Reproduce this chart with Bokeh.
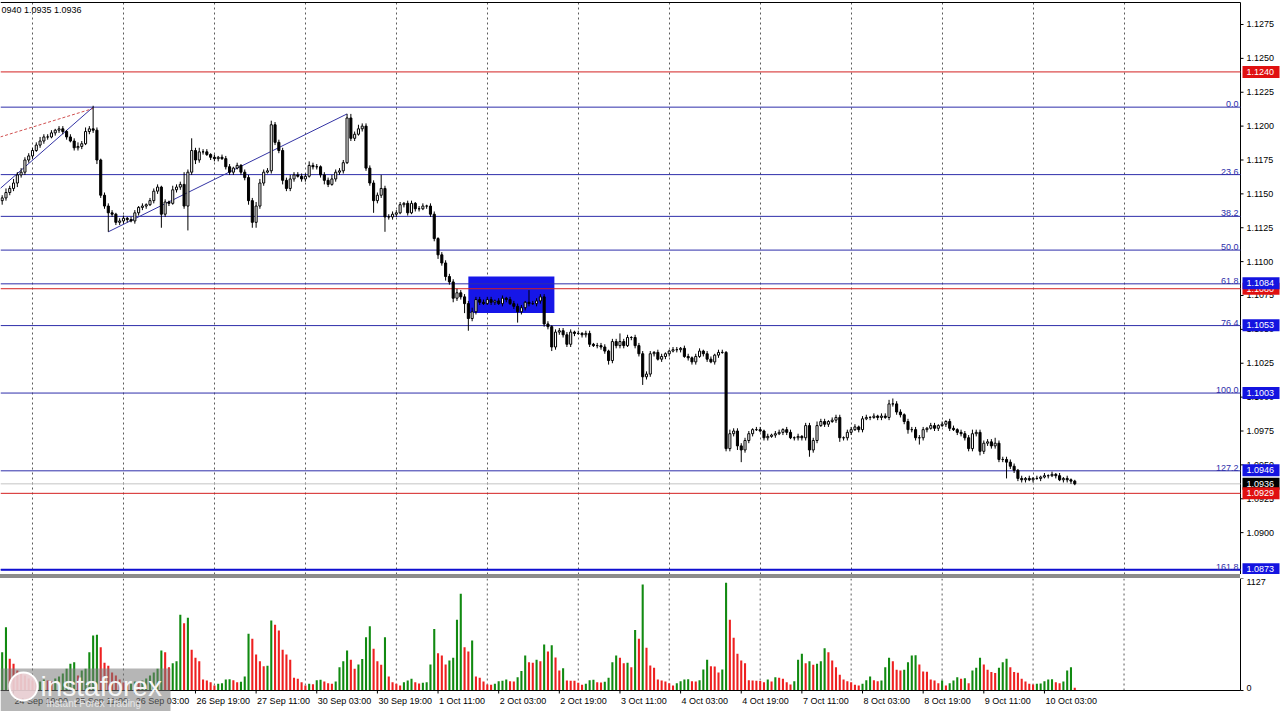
import numpy as np
from bokeh.plotting import figure
from bokeh.models import Range1d, FixedTicker, Grid, Spacer
from bokeh.layouts import column
from bokeh.embed import file_html
from bokeh.resources import INLINE
from bokeh.core.properties import value

# ---------------- data (EURUSD H1) ----------------
# bar index: one bar per hour, 0 = 25 Sep 00:00, weekend hours skipped
first_bar = -8
first_open = 1.1145
header_text = "0940 1.0935 1.0936"

closes = [
    # 24 Sep 16:00 - 23:00
    1.1147, 1.1151, 1.1154, 1.1158, 1.1164, 1.1166, 1.1175, 1.1178,
    # 25 Sep
    1.1182, 1.1186, 1.1189, 1.1192, 1.1192, 1.1195, 1.1197, 1.1198, 1.1196, 1.1192, 1.1189, 1.1184,
    1.1185, 1.1187, 1.1196, 1.1198, 1.1197, 1.1175, 1.1149, 1.1141, 1.1136, 1.1135, 1.1129, 1.1130,
    # 26 Sep
    1.1132, 1.1131, 1.1130, 1.1136, 1.1140, 1.1141, 1.1142, 1.1145, 1.1152, 1.1155, 1.1135, 1.1144,
    1.1143, 1.1153, 1.1155, 1.1157, 1.1141, 1.1166, 1.1182, 1.1175, 1.1181, 1.1181, 1.1179, 1.1177,
    # 27 Sep
    1.1176, 1.1177, 1.1176, 1.1170, 1.1166, 1.1169, 1.1171, 1.1166, 1.1162, 1.1145, 1.1129, 1.1141,
    1.1158, 1.1166, 1.1167, 1.1201, 1.1188, 1.1182, 1.1160, 1.1154, 1.1161, 1.1164, 1.1163, 1.1161,
    # 30 Sep
    1.1163, 1.1171, 1.1170, 1.1170, 1.1164, 1.1160, 1.1157, 1.1161, 1.1166, 1.1167, 1.1173, 1.1206,
    1.1191, 1.1194, 1.1198, 1.1200, 1.1169, 1.1158, 1.1145, 1.1149, 1.1154, 1.1133, 1.1133, 1.1135,
    # 1 Oct
    1.1136, 1.1142, 1.1143, 1.1136, 1.1143, 1.1139, 1.1139, 1.1141, 1.1141, 1.1135, 1.1117, 1.1105,
    1.1099, 1.1089, 1.1085, 1.1073, 1.1077, 1.1074, 1.1069, 1.1058, 1.1063, 1.1072, 1.1070, 1.1069,
    # 2 Oct
    1.1072, 1.1070, 1.1071, 1.1069, 1.1073, 1.1072, 1.1069, 1.1067, 1.1063, 1.1066, 1.1070, 1.1069,
    1.1069, 1.1071, 1.1074, 1.1054, 1.1052, 1.1037, 1.1048, 1.1049, 1.1046, 1.1039, 1.1048, 1.1047,
    # 3 Oct
    1.1047, 1.1046, 1.1047, 1.1039, 1.1038, 1.1038, 1.1037, 1.1034, 1.1027, 1.1041, 1.1038, 1.1041,
    1.1038, 1.1044, 1.1044, 1.1038, 1.1032, 1.1015, 1.1017, 1.1032, 1.1033, 1.1028, 1.1030, 1.1032,
    # 4 Oct
    1.1034, 1.1035, 1.1035, 1.1036, 1.1030, 1.1029, 1.1026, 1.1030, 1.1034, 1.1032, 1.1028, 1.1026,
    1.1031, 1.1033, 1.1033, 1.0962, 1.0973, 1.0975, 1.0964, 1.0961, 1.0968, 1.0973, 1.0976, 1.0976,
    # 7 Oct
    1.0975, 1.0970, 1.0971, 1.0972, 1.0973, 1.0974, 1.0976, 1.0974, 1.0970, 1.0970, 1.0971, 1.0970,
    1.0979, 1.0961, 1.0968, 1.0979, 1.0982, 1.0980, 1.0982, 1.0983, 1.0985, 1.0970, 1.0970, 1.0974,
    # 8 Oct
    1.0976, 1.0978, 1.0976, 1.0984, 1.0985, 1.0985, 1.0986, 1.0985, 1.0986, 1.0985, 1.0995, 1.0995,
    1.0989, 1.0987, 1.0982, 1.0976, 1.0976, 1.0970, 1.0970, 1.0976, 1.0977, 1.0979, 1.0977, 1.0979,
    # 9 Oct
    1.0980, 1.0982, 1.0977, 1.0976, 1.0974, 1.0973, 1.0970, 1.0962, 1.0973, 1.0974, 1.0960, 1.0966,
    1.0967, 1.0964, 1.0966, 1.0954, 1.0954, 1.0952, 1.0949, 1.0946, 1.0940, 1.0939, 1.0940, 1.0939,
    # 10 Oct 00:00 - 11:00
    1.0940, 1.0940, 1.0941, 1.0942, 1.0942, 1.0943, 1.0942, 1.0939, 1.0940, 1.0939, 1.0938, 1.0936,
]

# wick lengths above / below the body, in pips
upper_wick_pips = [
    2, 3, 2, 3, 2, 3, 2, 2,
    2, 2, 3, 2, 2, 2, 1, 2, 2, 1, 2, 2, 3, 2, 3, 2, 17, 2, 1, 2, 2, 2, 1, 2,
    2, 1, 2, 2, 1, 2, 1, 2, 2, 2, 1, 2, 1, 3, 2, 2, 9, 2, 9, 2, 3, 2, 2, 1,
    2, 1, 2, 2, 2, 1, 2, 1, 2, 2, 2, 3, 3, 2, 2, 3, 2, 2, 2, 2, 3, 2, 2, 2,
    2, 3, 2, 2, 1, 2, 2, 3, 2, 2, 2, 3, 3, 2, 3, 2, 2, 2, 2, 2, 10, 2, 2, 2,
    2, 2, 1, 2, 2, 1, 2, 2, 1, 2, 2, 1, 2, 2, 2, 2, 3, 2, 2, 2, 3, 2, 2, 2,
    2, 2, 1, 2, 2, 1, 2, 2, 2, 2, 1, 9, 2, 2, 2, 2, 2, 1, 2, 2, 2, 2, 2, 1,
    2, 1, 2, 2, 1, 2, 2, 2, 1, 2, 2, 6, 2, 2, 1, 2, 2, 2, 2, 2, 1, 2, 2, 1,
    1, 2, 2, 1, 2, 2, 1, 2, 2, 1, 2, 2, 1, 2, 2, 1, 3, 2, 2, 2, 2, 2, 1, 2,
    2, 1, 2, 1, 2, 2, 1, 2, 2, 1, 2, 1, 2, 2, 2, 3, 2, 2, 1, 2, 2, 2, 1, 2,
    2, 2, 1, 2, 2, 1, 2, 1, 2, 2, 3, 4, 2, 2, 1, 2, 2, 2, 2, 2, 1, 2, 2, 1,
    2, 1, 2, 2, 1, 2, 2, 2, 3, 2, 2, 2, 2, 2, 4, 2, 2, 2, 2, 2, 1, 2, 1, 2,
    1, 2, 1, 2, 1, 2, 1, 2, 1, 2, 1, 1,
]
lower_wick_pips = [
    3, 2, 2, 2, 3, 2, 2, 2,
    2, 1, 2, 2, 2, 1, 2, 2, 2, 2, 1, 2, 2, 2, 1, 2, 2, 3, 2, 2, 14, 2, 2, 2,
    2, 2, 1, 2, 2, 2, 2, 1, 2, 2, 10, 2, 2, 1, 2, 2, 2, 18, 2, 3, 2, 2, 1, 2,
    2, 2, 1, 2, 2, 2, 1, 2, 2, 3, 4, 4, 2, 2, 1, 2, 2, 2, 3, 2, 2, 2, 1, 2,
    2, 1, 2, 2, 2, 3, 2, 1, 2, 2, 2, 1, 2, 2, 1, 2, 2, 2, 9, 2, 2, 11, 2, 2,
    2, 1, 2, 2, 1, 2, 2, 1, 2, 2, 2, 3, 2, 3, 2, 3, 2, 2, 7, 9, 2, 2, 2, 1,
    1, 2, 2, 1, 2, 2, 1, 2, 8, 2, 2, 2, 1, 2, 2, 2, 2, 3, 2, 2, 2, 2, 2, 2,
    1, 2, 2, 2, 1, 2, 2, 2, 3, 2, 2, 2, 2, 1, 2, 2, 2, 6, 2, 2, 2, 1, 2, 2,
    2, 1, 2, 2, 1, 2, 2, 2, 1, 2, 2, 1, 2, 2, 1, 2, 2, 2, 3, 9, 2, 2, 2, 1,
    1, 2, 2, 1, 2, 1, 2, 2, 1, 2, 2, 2, 2, 5, 2, 2, 1, 2, 2, 1, 2, 3, 2, 2,
    2, 1, 2, 2, 1, 2, 1, 2, 2, 1, 2, 2, 2, 2, 2, 3, 2, 2, 5, 2, 2, 1, 2, 2,
    1, 2, 2, 1, 2, 2, 2, 2, 2, 2, 3, 2, 2, 2, 2, 2, 2, 12, 2, 2, 2, 2, 2, 1,
    2, 1, 2, 1, 2, 1, 2, 1, 2, 2, 2, 1,
]

volumes = [
    385, 637, 319, 268, 201, 180, 150, 120,
    100, 80, 90, 110, 100, 90, 120, 140, 170, 218, 268, 285, 150, 201, 218, 385, 553, 560, 436, 280, 250, 180, 150, 110,
    80, 60, 70, 90, 80, 100, 120, 150, 180, 220, 402, 385, 235, 275, 295, 761, 677, 731, 409, 329, 295, 111, 101, 84,
    50, 67, 74, 111, 114, 104, 84, 88, 141, 570, 520, 362, 295, 245, 250, 704, 661, 604, 409, 362, 309, 128, 117, 84,
    50, 67, 64, 104, 107, 91, 74, 67, 91, 235, 295, 402, 309, 218, 262, 318, 537, 647, 419, 295, 258, 537, 141, 84,
    67, 50, 84, 101, 117, 84, 70, 77, 84, 262, 620, 376, 352, 262, 302, 329, 711, 973, 436, 392, 503, 141, 128, 91,
    60, 57, 67, 94, 97, 111, 94, 91, 134, 195, 352, 285, 280, 309, 295, 463, 392, 456, 332, 201, 225, 101, 99, 97,
    77, 57, 67, 104, 107, 84, 81, 87, 128, 285, 352, 329, 275, 280, 235, 610, 520, 1066, 429, 252, 228, 111, 101, 91,
    74, 50, 74, 94, 111, 114, 94, 91, 104, 211, 309, 245, 242, 181, 211, 1083, 711, 530, 369, 302, 275, 104, 101, 99,
    95, 84, 111, 91, 134, 128, 117, 84, 60, 94, 309, 369, 275, 295, 258, 268, 295, 426, 386, 302, 235, 158, 111, 94,
    84, 57, 50, 67, 104, 141, 104, 94, 101, 235, 329, 295, 208, 201, 208, 285, 352, 355, 262, 191, 188, 111, 101, 74,
    101, 50, 74, 101, 134, 117, 124, 74, 201, 228, 329, 262, 208, 185, 175, 228, 285, 319, 235, 185, 178, 117, 91, 67,
    60, 67, 70, 94, 111, 114, 84, 74, 91, 201, 235, 27,
]
volume_scale_max = 1127

# time axis
day_start_bars = [0, 24, 48, 72, 96, 120, 144, 168, 192, 216, 240, 264, 288]
time_tick_bars = [-5, 11, 27, 43, 59, 75, 91, 107, 123, 139, 155, 171, 187, 203, 219, 235, 251, 267]
time_tick_labels = ["24 Sep 19:00", "25 Sep 11:00", "26 Sep 03:00", "26 Sep 19:00", "27 Sep 11:00",
                    "30 Sep 03:00", "30 Sep 19:00", "1 Oct 11:00", "2 Oct 03:00", "2 Oct 19:00",
                    "3 Oct 11:00", "4 Oct 03:00", "4 Oct 19:00", "7 Oct 11:00", "8 Oct 03:00",
                    "8 Oct 19:00", "9 Oct 11:00", "10 Oct 03:00"]
price_ticks = [1.0900, 1.0925, 1.0950, 1.0975, 1.1000, 1.1025, 1.1050, 1.1075,
               1.1100, 1.1125, 1.1150, 1.1175, 1.1200, 1.1225, 1.1250, 1.1275]

# Fibonacci grid
fib_high = 1.1214
fib_low = 1.1003
fib_levels = [0.0, 23.6, 38.2, 50.0, 61.8, 76.4, 100.0, 127.2, 161.8]
fib_tagged = [61.8, 76.4, 100.0, 127.2, 161.8]
# horizontal resistance / support lines
red_levels = [1.1240, 1.1080, 1.0929]
# trend lines (bar index, price)
trend_a_bars, trend_a_prices = [-8.5, 16], [1.1154, 1.1214]
trend_dash_bars, trend_dash_prices = [-8.5, 16], [1.1192, 1.1213]
trend_b_bars, trend_b_prices = [20, 83], [1.1122, 1.1209]
# blue rectangle (consolidation zone)
zone_bars = [115.0, 137.7]
zone_prices = [1.1062, 1.1089]

# ---------------- derived ----------------
n = len(closes)
bars = np.arange(first_bar, first_bar + n)
c = np.array(closes)
o = np.concatenate([[first_open], c[:-1]])
hi = np.maximum(o, c) + np.array(upper_wick_pips) * 0.0001
lo = np.minimum(o, c) - np.array(lower_wick_pips) * 0.0001
bull = c >= o
vol = np.array(volumes)
vol_up = np.concatenate([[True], vol[1:] > vol[:-1]])
vol_colors = ["#118a11" if u else "#ee2020" for u in vol_up]

fib_prices = [fib_high - lv / 100.0 * (fib_high - fib_low) for lv in fib_levels]
bid = closes[-1]

FONT = "Liberation Sans"
FIB_COLOR = "#2e2eaa"
GRID_COLOR = "#5a5a5a"
TAG_BLUE = "#1414e0"
TAG_RED = "#e01010"

# ---------------- geometry ----------------
W = 1280            # page width
CHART_W = 1240      # chart area; the price scale sits to its right
bar_lo, bar_hi = -8.443, 318.73
px_per_bar = CHART_W / (bar_hi - bar_lo)
xr = Range1d(bar_lo, bar_lo + W / px_per_bar)
axis_x = bar_hi

MAIN_H = 574
price_lo, price_hi = 1.08691, 1.12927
price_per_px = (price_hi - price_lo) / MAIN_H
VOL_H = 133
VOL_FRAME_H = 112
vol_hi = 1127
vol_per_px = vol_hi / VOL_FRAME_H
vol_lo = -(VOL_H - VOL_FRAME_H) * vol_per_px


def txt(fig, x, y, t, **kw):
    kw.setdefault("text_font", value(FONT))
    kw.setdefault("text_font_size", "9px")
    return fig.text(x=x, y=y, text=t, **kw)


# ---------------- price panel ----------------
p = figure(width=W, height=MAIN_H, x_range=xr, y_range=Range1d(price_lo, price_hi),
           output_backend="svg", toolbar_location=None,
           x_axis_location=None, y_axis_location=None,
           min_border_left=0, min_border_right=0, min_border_top=0, min_border_bottom=0)
p.outline_line_color = None
p.grid.visible = False
p.add_layout(Grid(dimension=0, ticker=FixedTicker(ticks=day_start_bars),
                  grid_line_color=GRID_COLOR, grid_line_dash="2 3", grid_line_width=1))

# frame lines: top border and price-scale line
top_line = price_hi - 2 * price_per_px
p.segment(x0=[bar_lo], y0=[top_line], x1=[axis_x], y1=[top_line], line_color="black", line_width=1)
p.segment(x0=[axis_x], y0=[price_lo], x1=[axis_x], y1=[top_line], line_color="black", line_width=1)

# zone rectangle
p.quad(left=[zone_bars[0]], right=[zone_bars[1]], bottom=[zone_prices[0]], top=[zone_prices[1]],
       fill_color="#1616e8", line_color=None)

# horizontal levels (chart area only)
def hline(prices, **kw):
    p.segment(x0=[bar_lo] * len(prices), y0=prices, x1=[axis_x] * len(prices), y1=prices, **kw)

hline(fib_prices, line_color=FIB_COLOR, line_width=1)
hline([fib_prices[-1]], line_color="#1010d0", line_width=2)
hline(red_levels, line_color="#d42020", line_width=1)
hline([bid], line_color="#c4c4c4", line_width=1)

# trend lines
p.line(trend_a_bars, trend_a_prices, line_color="#3434a4", line_width=1)
p.line(trend_dash_bars, trend_dash_prices, line_color="#d05050", line_width=1, line_dash="3 2")
p.line(trend_b_bars, trend_b_prices, line_color="#3434a4", line_width=1)

# candles
p.segment(x0=bars, y0=hi, x1=bars, y1=lo, line_color="black", line_width=1)
p.vbar(x=bars, width=0.55, top=np.maximum(o, c), bottom=np.minimum(o, c),
       fill_color=["white" if b else "black" for b in bull], line_color="black", line_width=1)

# fib level texts
txt(p, [axis_x] * len(fib_levels), fib_prices, ["%.1f" % lv for lv in fib_levels],
    text_align="right", text_baseline="bottom", x_offset=-2, text_color=FIB_COLOR)

# header text
txt(p, [bar_lo], [price_hi], [header_text], text_align="left", text_baseline="top",
    x_offset=1, y_offset=4, text_color="black")

# price scale ticks and labels
p.ray(x=[axis_x] * len(price_ticks), y=price_ticks, length=3, length_units="screen",
      angle=0, line_color="black", line_width=1)
txt(p, [axis_x] * len(price_ticks), price_ticks, ["%.4f" % t for t in price_ticks],
    text_align="left", text_baseline="middle", x_offset=6, text_color="black")

# price tags on the scale
tag_prices, tag_colors = [], []
tag_prices.append(red_levels[0]); tag_colors.append(TAG_RED)
tag_prices.append(red_levels[1]); tag_colors.append(TAG_RED)
for lv, pr in zip(fib_levels, fib_prices):
    if lv in fib_tagged:
        tag_prices.append(round(pr, 4)); tag_colors.append(TAG_BLUE)
tag_prices.append(bid); tag_colors.append("black")
tag_prices.append(red_levels[2]); tag_colors.append(TAG_RED)
for pr, col in zip(tag_prices, tag_colors):
    p.rect(x=[axis_x + 20.5 / px_per_bar], y=[pr], width=37, height=12,
           width_units="screen", height_units="screen", fill_color=col, line_color=None)
    txt(p, [axis_x], [pr], ["%.4f" % pr], text_align="left", text_baseline="middle",
        x_offset=6, text_color="white")

# ---------------- separator ----------------
sep = Spacer(width=CHART_W, height=4, styles={"background-color": "#8c8c8c"})

# ---------------- volume panel ----------------
v = figure(width=W, height=VOL_H, x_range=xr, y_range=Range1d(vol_lo, vol_hi),
           output_backend="svg", toolbar_location=None,
           x_axis_location=None, y_axis_location=None,
           min_border_left=0, min_border_right=0, min_border_top=0, min_border_bottom=0)
v.outline_line_color = None
v.grid.visible = False

v.segment(x0=day_start_bars, y0=[0] * len(day_start_bars), x1=day_start_bars,
          y1=[vol_hi] * len(day_start_bars), line_color=GRID_COLOR, line_dash="2 3", line_width=1)
v.vbar(x=bars, top=vol, bottom=0, width=0.55, fill_color=vol_colors, line_color=None)

# axes lines
v.segment(x0=[bar_lo], y0=[0], x1=[axis_x], y1=[0], line_color="black", line_width=1)
v.segment(x0=[axis_x], y0=[0], x1=[axis_x], y1=[vol_hi], line_color="black", line_width=1)

# volume scale
v.ray(x=[axis_x, axis_x], y=[0, volume_scale_max], length=3, length_units="screen", angle=0,
      line_color="black", line_width=1)
txt(v, [axis_x], [volume_scale_max], [str(volume_scale_max)], text_align="left",
    text_baseline="top", x_offset=6, y_offset=0, text_color="black")
txt(v, [axis_x], [0], ["0"], text_align="left", text_baseline="bottom", x_offset=6,
    y_offset=0, text_color="black")

# time scale
v.ray(x=time_tick_bars, y=[0] * len(time_tick_bars), length=3, length_units="screen",
      angle=-np.pi / 2, line_color="black", line_width=1)
txt(v, time_tick_bars, [0] * len(time_tick_bars), time_tick_labels, text_align="left",
    text_baseline="top", x_offset=1, y_offset=5, text_color="black")

# watermark
wm_right = bar_lo + 170 / px_per_bar
v.quad(left=[bar_lo], right=[wm_right], bottom=[vol_lo], top=[22 * vol_per_px],
       fill_color="#7a7a7a", fill_alpha=0.55, line_color=None)
v.scatter(x=[bar_lo + 23 / px_per_bar], y=[4 * vol_per_px], size=28, marker="circle",
          fill_color="#f2d6da", fill_alpha=0.85, line_color="#ffffff", line_width=2)
txt(v, [bar_lo], [0], ["instaforex"], text_align="left", text_baseline="middle",
    x_offset=40, y_offset=-4, text_font_size="28px", text_color="#f6f6f6")
txt(v, [bar_lo], [0], ["Instant Forex Trading"], text_align="left", text_baseline="middle",
    x_offset=46, y_offset=13, text_font_size="10px", text_color="#e6e6e6")

layout = column(p, sep, v, spacing=0)
open("out.html", "w").write(file_html(layout, INLINE, title="EURUSD H1"))
